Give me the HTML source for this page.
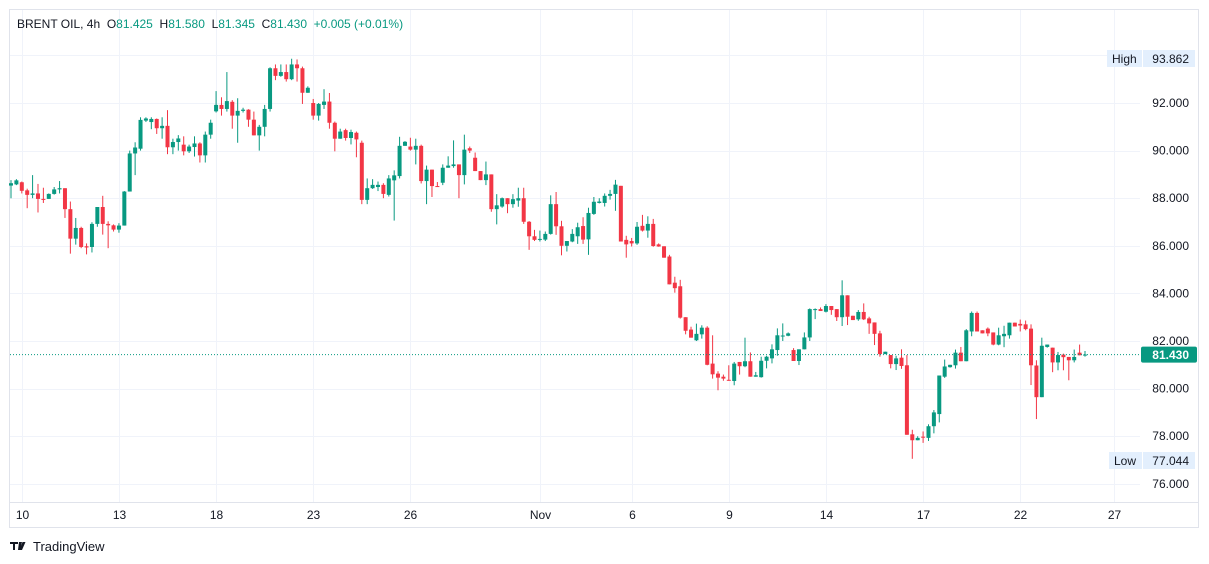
<!DOCTYPE html>
<html><head><meta charset="utf-8"><style>
body{margin:0;background:#fff;width:1209px;height:564px;overflow:hidden;font-family:"Liberation Sans",sans-serif}
svg{position:absolute;left:0;top:0}
</style></head><body>
<svg id="chart" width="1209" height="564" xmlns="http://www.w3.org/2000/svg" font-family="Liberation Sans, sans-serif">
<rect x="9.5" y="9.5" width="1189" height="518" fill="#fff" stroke="#e0e3eb"/>
<line x1="10" y1="502.5" x2="1198" y2="502.5" stroke="#e0e3eb"/>
<g id="grid"></g>
<g id="candles"></g>
<g id="axes"></g>
<text x="17" y="28" font-size="12" fill="#131722" style="white-space:pre">BRENT OIL, 4h  O<tspan fill="#089981">81.425</tspan>  H<tspan fill="#089981">81.580</tspan>  L<tspan fill="#089981">81.345</tspan>  C<tspan fill="#089981">81.430</tspan>  <tspan fill="#089981">+0.005 (+0.01%)</tspan></text>
<g>
<rect x="1107" y="50" width="88" height="17" fill="#e3effd"/>
<line x1="1142.5" y1="50" x2="1142.5" y2="67" stroke="#fff"/>
<text x="1112" y="63" font-size="12" fill="#131722">High</text>
<text x="1189" y="63" font-size="12" fill="#131722" text-anchor="end">93.862</text>
</g>
<g>
<rect x="1109" y="452" width="86" height="17" fill="#e3effd"/>
<line x1="1142.5" y1="452" x2="1142.5" y2="469" stroke="#fff"/>
<text x="1114" y="465" font-size="12" fill="#131722">Low</text>
<text x="1189" y="465" font-size="12" fill="#131722" text-anchor="end">77.044</text>
</g>
<g>
<path d="M10 542h8v2h-3v6h-2v-6h-3z M19 542h3l-2 8h-2z M22.5 542h3l-3.5 8h-2.5z" fill="#131722"/>
<text x="33" y="551" font-size="13" fill="#131722">TradingView</text>
</g>
</svg>
<script>
const opens=[88.53,88.58,88.67,88.33,88.14,88.2,87.97,87.97,88.18,88.37,88.42,87.54,86.3,86.75,85.98,85.95,86.92,87.63,86.92,86.86,86.68,86.85,88.28,89.88,90.08,91.26,91.2,91.33,90.94,91.04,90.14,90.36,90.25,89.97,90.15,90.3,
89.8,90.67,91.65,91.92,91.75,92.05,91.47,91.67,91.72,91.3,90.64,91.0,91.75,93.46,93.14,93.3,93.0,93.62,93.46,92.43,92.0,91.47,91.92,92.06,91.17,90.5,90.86,90.53,90.75,90.33,87.93,88.42,88.47,88.56,88.14,
88.75,88.93,90.2,90.17,90.04,90.2,88.72,89.2,88.51,88.65,89.28,89.35,89.42,88.97,90.1,89.7,89.14,88.76,89.0,87.54,87.65,88.0,87.75,87.9,88.0,87.01,86.4,86.26,86.26,86.5,87.75,86.82,86.0,86.18,86.4,86.83,
86.27,87.34,87.8,87.8,88.1,88.18,88.52,86.25,86.2,86.1,86.84,86.64,86.92,86.06,85.98,85.55,84.45,84.3,83.0,82.48,82.03,82.28,82.56,81.05,80.63,80.5,80.37,80.32,81.12,80.94,81.15,80.5,80.48,
81.17,81.27,81.62,82.2,82.22,81.62,81.16,81.65,82.15,83.3,83.34,83.23,83.47,83.34,83.0,83.92,83.06,82.91,83.22,82.95,82.78,82.32,81.45,81.41,81.03,81.3,80.98,78.08,77.83,77.98,77.93,78.42,
78.93,80.5,80.9,80.98,81.51,81.15,82.4,83.18,82.45,82.52,82.36,81.85,82.2,82.24,82.77,82.72,82.7,82.52,80.97,79.64,81.75,81.72,81.1,81.43,81.33,81.19,81.51,81.425];
const highs=[88.76,88.8,88.7,88.4,88.97,88.6,88.44,88.2,88.47,88.72,88.42,87.86,87.17,86.8,86.1,86.99,87.63,88.1,87.03,86.9,86.95,88.3,90.0,90.35,91.4,91.4,91.4,91.35,91.4,91.7,90.5,90.65,90.6,90.25,90.6,90.35,
90.8,91.3,92.5,92.24,93.3,92.12,92.2,91.8,91.74,91.64,91.08,91.92,93.5,93.62,93.62,93.62,93.86,93.83,93.53,92.7,92.17,92.0,92.58,92.42,91.22,90.92,90.92,90.88,90.8,90.42,88.83,88.8,88.7,88.63,88.97,
89.17,90.58,90.4,90.54,90.5,90.25,89.37,89.2,88.68,89.42,89.76,90.43,89.42,90.67,90.17,89.92,89.14,89.54,89.0,88.17,88.03,88.0,88.17,88.44,88.44,87.04,86.67,86.64,86.6,88.12,88.26,87.05,86.2,86.7,86.97,87.2,
87.6,88.05,88.0,88.2,88.35,88.77,88.52,86.42,86.33,87.0,87.3,87.24,87.13,86.1,85.98,85.62,84.7,84.57,83.0,82.6,82.73,82.66,82.62,82.24,80.73,80.59,80.98,81.12,81.12,82.14,81.52,80.7,81.34,
81.38,81.86,82.53,82.74,82.36,81.7,81.65,82.36,83.37,83.37,83.41,83.55,83.47,83.34,84.55,83.92,83.06,83.3,83.58,83.02,82.78,82.43,81.55,81.41,81.38,81.65,81.41,78.27,78.0,78.2,78.5,79.1,
80.55,81.22,81.0,81.64,81.75,82.5,83.24,83.24,82.45,82.57,82.36,82.56,82.64,82.77,82.77,82.9,82.86,82.7,81.19,82.14,81.85,81.72,81.54,81.47,81.33,81.64,81.85,81.58];
const lows=[88.0,88.55,88.2,87.58,88.0,87.4,87.8,87.97,88.15,88.2,87.17,85.67,86.05,85.9,85.64,85.72,86.8,86.47,85.9,86.6,86.55,86.85,88.28,88.97,90.0,91.2,90.9,90.7,90.5,89.85,89.85,90.0,89.8,89.9,89.75,89.5,
89.5,90.5,91.6,91.47,91.64,90.92,90.33,91.6,91.0,90.64,90.0,90.6,91.64,92.96,93.1,92.9,92.96,92.9,91.96,92.43,91.3,91.26,91.75,90.92,89.97,90.5,90.42,90.26,89.72,87.75,87.75,88.39,88.3,88.0,88.07,
87.06,88.83,90.2,90.0,89.42,88.62,87.75,88.05,88.47,88.55,89.28,89.28,88.0,88.58,89.9,89.14,88.76,88.55,87.43,86.9,87.6,87.37,87.6,87.64,86.92,85.83,86.2,86.18,86.2,86.47,86.46,85.6,85.76,86.15,86.08,86.08,
85.62,87.3,87.78,87.65,87.94,87.47,86.18,85.5,85.97,86.04,86.6,86.34,85.96,85.96,85.5,84.38,84.03,82.94,82.28,82.14,82.0,82.1,80.98,80.42,79.93,80.33,80.33,80.14,80.59,80.9,80.5,80.5,80.46,
80.85,81.06,81.38,82.0,82.2,81.16,80.99,81.65,82.0,82.92,83.26,83.2,83.1,82.84,82.63,82.67,82.88,82.85,82.88,82.3,81.83,81.34,81.45,80.85,80.78,80.83,78.06,77.05,77.83,77.72,77.8,78.12,
78.58,80.45,80.88,80.84,81.15,81.15,82.2,82.4,82.32,82.2,81.82,81.82,81.74,82.1,82.61,82.4,82.45,80.15,78.72,79.64,81.72,80.69,80.77,80.77,80.35,81.1,81.4,81.345];
const closes=[88.63,88.75,88.31,88.14,88.2,87.97,87.95,88.18,88.37,88.42,87.54,86.3,86.75,85.95,85.93,86.92,87.63,86.92,86.86,86.68,86.85,88.28,89.88,90.13,91.29,91.35,91.33,90.94,91.04,90.14,90.36,90.51,89.97,90.17,90.3,89.8,
90.67,91.17,91.92,91.75,92.08,91.47,91.67,91.72,91.3,90.64,91.0,91.75,93.46,93.14,93.3,93.0,93.62,93.46,92.43,92.64,91.47,91.96,92.06,91.17,90.5,90.8,90.53,90.78,90.47,87.93,88.42,88.56,88.56,88.18,88.83,
88.96,90.2,90.37,90.04,90.2,88.72,89.2,88.51,88.47,89.28,89.37,89.42,88.97,90.04,90.0,89.14,88.76,89.0,87.54,87.7,88.0,87.75,87.96,88.0,87.01,86.4,86.25,86.29,86.5,87.75,86.82,86.0,86.2,86.5,86.78,86.26,
87.38,87.85,87.86,88.1,88.18,88.57,86.18,86.06,86.1,86.8,86.64,86.92,85.99,85.97,85.5,84.38,84.22,82.98,82.43,82.14,82.3,82.56,81.0,80.6,80.46,80.42,80.33,81.05,80.94,81.15,80.5,80.56,81.17,
81.34,81.65,82.24,82.23,82.32,81.16,81.65,82.15,83.34,83.34,83.26,83.47,83.3,83.0,83.92,83.02,82.88,83.22,82.91,82.74,82.3,81.45,81.55,81.03,81.27,80.95,78.06,77.83,77.93,77.94,78.42,79.0,
80.55,80.93,81.0,81.51,81.15,82.45,83.18,82.4,82.32,82.32,81.85,82.24,82.3,82.77,82.61,82.65,82.5,80.98,79.64,81.8,81.85,81.1,81.41,81.32,81.19,81.33,81.4,81.43];
const priceTicks=[94,92,90,88,86,84,82,80,78,76];
const dateLabels=["10","13","18","23","26","Nov","6","9","14","17","22","27"];
const dateIndex=[2,20,38,56,74,98,115,133,151,169,187,204.3];
const lastPrice=81.43;

const NS="http://www.w3.org/2000/svg";
const X0=11,STEP=1074/199,PLOT_R=1140;
function xs(i){return X0+i*STEP;}
function ys(p){return 103+(92-p)*23.8;}
function mk(tag,attrs,parent){const e=document.createElementNS(NS,tag);for(const k in attrs)e.setAttribute(k,attrs[k]);parent.appendChild(e);return e;}
const grid=document.getElementById('grid'),cg=document.getElementById('candles'),ax=document.getElementById('axes');
priceTicks.forEach(p=>{
  const y=Math.round(ys(p))+0.5;
  const l=mk('line',{x1:10,x2:PLOT_R,y1:y,y2:y,stroke:'#f0f3fa'},grid);
  
  
  const t=mk('text',{x:1189,y:ys(p)+4,'font-size':12,fill:'#131722','text-anchor':'end'},ax);
  t.textContent=p.toFixed(3);
  
  
});
dateLabels.forEach((d,k)=>{
  const x=Math.round(xs(dateIndex[k]))+0.5;
  const l=mk('line',{x1:x,x2:x,y1:10,y2:502,stroke:'#f0f3fa'},grid);
  
  
  const t=mk('text',{x:x,y:519,'font-size':12,fill:'#131722','text-anchor':'middle'},ax);
  t.textContent=d;
  
  
});
closes.forEach((c,i)=>{
  const o=opens[i],up=c>=o,col=up?'#089981':'#f23645',x=xs(i);
  const g=mk('g',{},cg);
  
  
  mk('line',{x1:x,x2:x,y1:ys(highs[i]),y2:ys(lows[i]),stroke:col,'stroke-width':1},g);
  const top=ys(Math.max(o,c)),bot=ys(Math.min(o,c));
  mk('rect',{x:x-2,y:top,width:4,height:Math.max(1,bot-top),fill:col},g);
});
const ly=ys(lastPrice);
const pl=mk('line',{x1:10,x2:PLOT_R,y1:ly,y2:ly,stroke:'#089981','stroke-dasharray':'1 2'},ax);


const badge=mk('rect',{x:1141,y:ly-8,width:56,height:16,fill:'#089981',rx:2},ax);


const bt=mk('text',{x:1189,y:ly+4.5,'font-size':12,'font-weight':'bold',fill:'#fff','text-anchor':'end'},ax);
bt.textContent=lastPrice.toFixed(3);


</script>
</body></html>
